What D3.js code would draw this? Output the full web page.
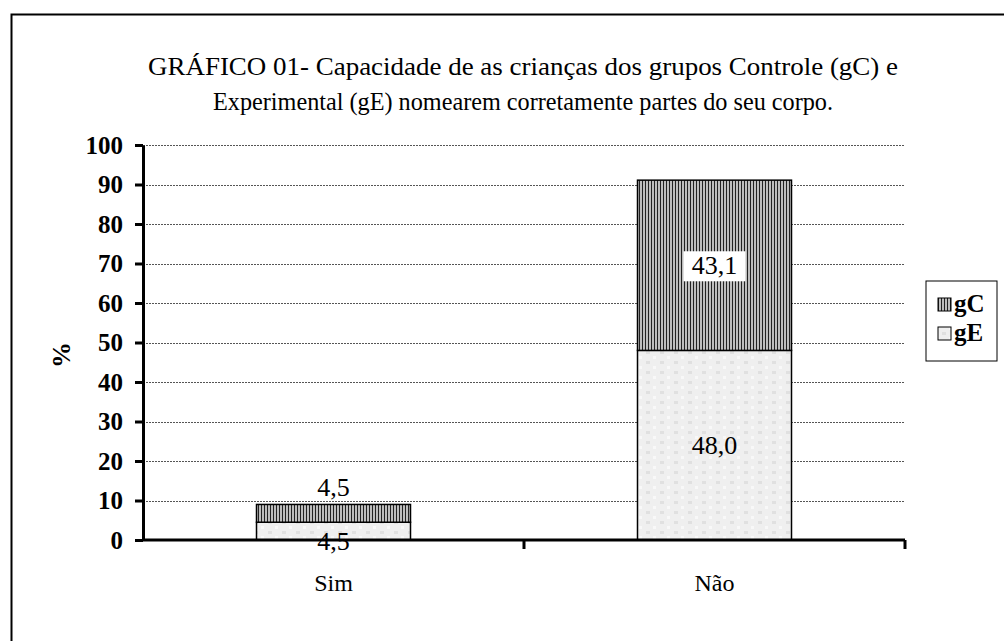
<!DOCTYPE html>
<html>
<head>
<meta charset="utf-8">
<script src="https://cdn.jsdelivr.net/npm/d3@7"></script>
<style>
  body { margin: 0; background: #fff; }
  svg { display: block; font-family: "Liberation Serif", "Times New Roman", serif; }
</style>
</head>
<body>
<svg id="chart" width="1004" height="641"></svg>
<script>
// chart data
const categories = ["Sim", "Não"];
const gE = [4.5, 48.0];
const gC = [4.5, 43.1];
const seriesNames = ["gC", "gE"];
const yTicks = [0, 10, 20, 30, 40, 50, 60, 70, 80, 90, 100];
const titleLines = [
  "GRÁFICO 01- Capacidade de as crianças dos grupos Controle (gC) e",
  "Experimental (gE) nomearem corretamente partes do seu corpo."
];

const svg = d3.select("#chart");
const margin = { top: 145, right: 99, bottom: 101, left: 143 };
const W = 1004, H = 641;

// outer frame
svg.append("rect")
  .attr("x", 11.5).attr("y", 14.5)
  .attr("width", W).attr("height", H)
  .attr("fill", "none").attr("stroke", "#000").attr("stroke-width", 2);

const defs = svg.append("defs");
const hatch = defs.append("pattern")
  .attr("id", "hatch").attr("patternUnits", "userSpaceOnUse")
  .attr("width", 3).attr("height", 4);
hatch.append("rect").attr("width", 3).attr("height", 4).attr("fill", "#bdbdbd");
hatch.append("rect").attr("width", 1).attr("height", 4).attr("fill", "#222");

const speck = defs.append("pattern")
  .attr("id", "speck").attr("patternUnits", "userSpaceOnUse")
  .attr("width", 14).attr("height", 10);
speck.append("rect").attr("width", 14).attr("height", 10).attr("fill", "#efefef");
speck.append("rect").attr("x", 2).attr("y", 1).attr("width", 4).attr("height", 3).attr("fill", "#e0e0e0");
speck.append("rect").attr("x", 9).attr("y", 6).attr("width", 3).attr("height", 3).attr("fill", "#f8f8f8");

const x = d3.scaleBand()
  .domain(categories)
  .range([margin.left, W - margin.right])
  .paddingInner(0).paddingOuter(0);

const y = d3.scaleLinear()
  .domain([0, 100])
  .range([H - margin.bottom, margin.top]);

// gridlines
svg.append("g")
  .selectAll("line")
  .data(yTicks.filter(d => d > 0))
  .join("line")
  .attr("x1", margin.left).attr("x2", W - margin.right)
  .attr("y1", d => Math.round(y(d)) + 0.5).attr("y2", d => Math.round(y(d)) + 0.5)
  .attr("stroke", "#555").attr("stroke-dasharray", "2,1");

// bars
const barW = 154;
const g = svg.append("g");
categories.forEach((c, i) => {
  const cx = x(c) + x.bandwidth() / 2;
  const e0 = y(0), e1 = y(gE[i]), c1 = y(gE[i] + gC[i]);
  g.append("rect")
    .attr("x", cx - barW / 2).attr("y", e1)
    .attr("width", barW).attr("height", e0 - e1)
    .attr("fill", "url(#speck)").attr("stroke", "#000").attr("stroke-width", 1.5);
  g.append("rect")
    .attr("x", cx - barW / 2).attr("y", c1)
    .attr("width", barW).attr("height", e1 - c1)
    .attr("fill", "url(#hatch)").attr("stroke", "#000").attr("stroke-width", 1.5);
});

// y axis
const yAxis = svg.append("g")
  .attr("transform", `translate(${margin.left},0)`)
  .call(d3.axisLeft(y).tickValues(yTicks).tickSize(8).tickPadding(12).tickSizeOuter(0));
yAxis.select(".domain").attr("stroke-width", 3);
yAxis.selectAll(".tick line").attr("stroke-width", 3);
yAxis.selectAll("text")
  .attr("font-size", 25).attr("font-weight", "bold").attr("fill", "#000")
  .attr("font-family", "Liberation Serif");

// x axis
const xAxis = svg.append("g")
  .attr("transform", `translate(0,${H - margin.bottom})`);
xAxis.append("line")
  .attr("x1", margin.left).attr("x2", W - margin.right)
  .attr("stroke", "#000").attr("stroke-width", 3);
xAxis.selectAll("line.tk")
  .data([x(categories[1]), W - margin.right])
  .join("line").attr("class", "tk")
  .attr("x1", d => d).attr("x2", d => d).attr("y1", 0).attr("y2", 9)
  .attr("stroke", "#000").attr("stroke-width", 3);
xAxis.selectAll("text")
  .data(categories)
  .join("text")
  .attr("x", d => x(d) + x.bandwidth() / 2)
  .attr("y", 51)
  .attr("text-anchor", "middle")
  .attr("font-size", 24)
  .text(d => d);

// y label
svg.append("text")
  .attr("transform", "translate(70,355) rotate(-90)")
  .attr("text-anchor", "middle")
  .attr("font-size", 26)
  .attr("font-weight", "bold")
  .text("%");

// value labels
const fmt = v => v.toFixed(1).replace(".", ",");
categories.forEach((c, i) => {
  const cx = x(c) + x.bandwidth() / 2;
  const small = gE[i] + gC[i] < 20;
  const eY = small ? y(gE[i] / 2) + 19 : y(gE[i] / 2) + 9;
  const cY = small ? y(gE[i] + gC[i]) - 8 : y(gE[i] + gC[i] / 2) + 9;
  if (!small) {
    g.append("rect")
      .attr("x", cx - 31).attr("y", cY - 23)
      .attr("width", 62).attr("height", 30).attr("fill", "#fff");
  } else {
    g.append("rect")
      .attr("x", cx - 23).attr("y", cY - 22)
      .attr("width", 46).attr("height", 26).attr("fill", "#fff");
  }
  g.append("text").attr("x", cx).attr("y", cY)
    .attr("text-anchor", "middle").attr("font-size", 26).text(fmt(gC[i]));
  g.append("text").attr("x", cx).attr("y", eY)
    .attr("text-anchor", "middle").attr("font-size", 26).text(fmt(gE[i]));
});

// title
svg.append("g").selectAll("text")
  .data(titleLines)
  .join("text")
  .attr("x", 523)
  .attr("y", (d, i) => 75 + i * 35)
  .attr("text-anchor", "middle")
  .attr("font-size", 26)
  .attr("textLength", (d, i) => i === 0 ? 750 : 620)
  .attr("lengthAdjust", "spacingAndGlyphs")
  .text(d => d);

// legend
const leg = svg.append("g").attr("transform", "translate(926,281)");
leg.append("rect").attr("width", 71).attr("height", 80)
  .attr("fill", "#fff").attr("stroke", "#000").attr("stroke-width", 1);
const fills = { gC: "url(#hatch)", gE: "url(#speck)" };
seriesNames.forEach((s, i) => {
  const yy = 30 + i * 29;
  leg.append("rect").attr("x", 12).attr("y", yy - 13).attr("width", 13).attr("height", 13)
    .attr("fill", fills[s]).attr("stroke", "#000").attr("stroke-width", 1);
  leg.append("text").attr("x", 28).attr("y", yy + 1)
    .attr("font-size", 25).attr("font-weight", "bold").text(s);
});
</script>
</body>
</html>
